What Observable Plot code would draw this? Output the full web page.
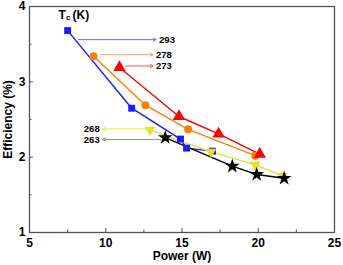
<!DOCTYPE html>
<html><head><meta charset="utf-8">
<script src="https://cdn.jsdelivr.net/npm/d3@7"></script>
<script src="https://cdn.jsdelivr.net/npm/@observablehq/plot@0.6"></script>
<style>
body{margin:0;background:#fff}
svg{font-family:"Liberation Sans",Arial,sans-serif}
</style>
</head><body><div id="chart"></div>
<script>
// Series (Tc labels, power in W, efficiency in %)
const temps = ["293", "278", "273", "268", "263"];
const power293 = [7.5, 11.7, 14.9, 15.3, 17.0];
const eff293   = [3.68, 2.65, 2.24, 2.12, 2.08];
const power278 = [9.2, 12.6, 15.4, 19.8];
const eff278   = [3.34, 2.69, 2.37, 2.02];
const power273 = [10.9, 14.8, 17.4, 20.1];
const eff273   = [3.19, 2.54, 2.31, 2.04];
const power268 = [12.9, 16.9, 19.8, 21.6];
const eff268   = [2.36, 2.07, 1.90, 1.75];
const power263 = [13.9, 18.3, 19.9, 21.7];
const eff263   = [2.26, 1.88, 1.77, 1.72];

// Annotation arrows (data units): start x, end x, y
const arrowX1 = [8.2, 9.7, 11.3, 12.7, 13.6];
const arrowX2 = [13.3, 13.1, 13.1, 9.8, 9.8];
const arrowY  = [3.56, 3.36, 3.21, 2.375, 2.235];

const xTicks = [5, 10, 15, 20, 25];
const yTicks = [1, 2, 3, 4];
const xMinor = [7.5, 12.5, 17.5, 22.5];
const yMinor = [1.5, 2.5, 3.5];

const colors = {"293": "#1a1aff", "278": "#ff8000", "273": "#ff0000", "268": "#e8e030", "263": "#000000"};
const arrowColors = {"293": "#7070ff", "278": "#ffa060", "273": "#ff5050", "268": "#f0f020", "263": "#909090"};
const symbols = {"293": "square", "278": "circle", "273": "triangle", "268": "triangle", "263": "star"};
const rotates = {"293": 0, "278": 0, "273": 0, "268": 180, "263": 0};
const radii = {"293": 3.9, "278": 4.0, "273": 4.6, "268": 4.0, "263": 4.6};

const seriesX = [power293, power278, power273, power268, power263];
const seriesY = [eff293, eff278, eff273, eff268, eff263];
const points = [];
temps.forEach((t, i) => seriesX[i].forEach((x, j) => points.push({t, x, y: seriesY[i][j]})));
const arrows = temps.map((t, i) => ({t, x1: arrowX1[i], x2: arrowX2[i], y: arrowY[i]}));

const W = 343, H = 265, mL = 29, mT = 6, mR = 9, mB = 33;
const pw = W - mL - mR, ph = H - mT - mB;

const marks = [];
for (const t of temps) {
  marks.push(Plot.line(points.filter(d => d.t === t), {x: "x", y: "y", stroke: colors[t], strokeWidth: 1.4}));
}
for (const a of arrows) {
  marks.push(Plot.arrow([a], {x1: "x1", x2: "x2", y1: "y", y2: "y", stroke: arrowColors[a.t], strokeWidth: 1, headLength: 5}));
}
for (const t of temps) {
  marks.push(Plot.dot(points.filter(d => d.t === t), {x: "x", y: "y", fill: colors[t], stroke: "none", symbol: () => symbols[t], r: radii[t], rotate: rotates[t]}));
}
// arrow labels
const rightLabels = arrows.filter(a => a.x2 > a.x1);
const leftLabels = arrows.filter(a => a.x2 < a.x1);
marks.push(Plot.text(rightLabels, {x: "x2", y: "y", text: "t", textAnchor: "start", dx: 3, fontSize: 9.5, fontWeight: "bold", fill: "#000"}));
marks.push(Plot.text(leftLabels, {x: "x2", y: "y", text: "t", textAnchor: "end", dx: -3, fontSize: 9.5, fontWeight: "bold", fill: "#000"}));
// Tc (K)
marks.push(Plot.text([6.9], {x: d => d, y: 3.89, text: () => "T", textAnchor: "start", fontSize: 12, fontWeight: "bold"}));
marks.push(Plot.text([6.9], {x: d => d, y: 3.89, text: () => "c", textAnchor: "start", dx: 7.5, dy: 3, fontSize: 8, fontWeight: "bold"}));
marks.push(Plot.text([6.9], {x: d => d, y: 3.89, text: () => "(K)", textAnchor: "start", dx: 14, fontSize: 12, fontWeight: "bold"}));
// ticks (inward)
marks.push(Plot.tickX(xTicks, {x: d => d, stroke: "#555", insetTop: ph - 4}));
marks.push(Plot.tickX(xMinor, {x: d => d, stroke: "#555", insetTop: ph - 2.5}));
marks.push(Plot.tickY(yTicks, {y: d => d, stroke: "#555", insetRight: pw - 4}));
marks.push(Plot.tickY(yMinor, {y: d => d, stroke: "#555", insetRight: pw - 2.5}));
marks.push(Plot.frame({stroke: "#555", strokeWidth: 1.3}));
marks.push(Plot.axisX(xTicks, {tickSize: 0, tickPadding: 6, fontSize: 12, fontWeight: "bold", label: null, fill: "#000", tickFormat: d3.format("d")}));
marks.push(Plot.axisY(yTicks, {tickSize: 0, tickPadding: 4, fontSize: 12, fontWeight: "bold", label: null, fill: "#000", tickFormat: d3.format("d")}));
marks.push(Plot.text(["Power (W)"], {frameAnchor: "bottom", lineAnchor: "middle", textAnchor: "middle", text: d => d, dy: 24, fontSize: 12, fontWeight: "bold", fill: "#000"}));
marks.push(Plot.text(["Efficiency (%)"], {frameAnchor: "left", lineAnchor: "middle", textAnchor: "middle", text: d => d, dx: -21.5, rotate: -90, fontSize: 12, fontWeight: "bold", fill: "#000"}));

const chart = Plot.plot({
  width: W, height: H,
  marginLeft: mL, marginTop: mT, marginRight: mR, marginBottom: mB,
  x: {domain: [5, 25]},
  y: {domain: [1, 4]},
  style: {background: "#fff", color: "#000", fontFamily: "'Liberation Sans', Arial, sans-serif"},
  marks
});
document.getElementById("chart").append(chart);
</script>
</body></html>
